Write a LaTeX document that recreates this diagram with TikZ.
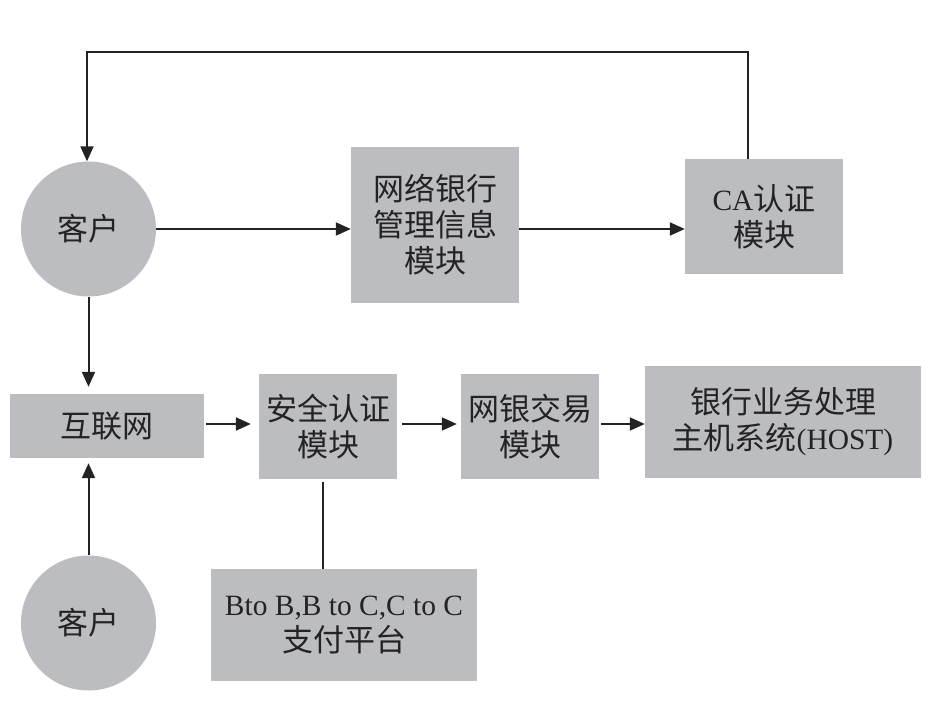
\documentclass[tikz,border=0pt]{standalone}
\usepackage{fontspec}
\setmainfont{Noto Sans CJK SC}
\newfontfamily\lat[Scale=0.95]{Liberation Serif}
\usetikzlibrary{arrows.meta}
\definecolor{boxgray}{RGB}{188,189,193}
\definecolor{ink}{RGB}{35,35,35}
\begin{document}
\begin{tikzpicture}[x=1pt,y=-1pt,
  blk/.style={fill=boxgray, draw=none, inner sep=0pt, align=center,
    font=\fontsize{31}{36}\selectfont, text=ink},
  circ/.style={blk, circle, minimum size=135pt},
  conn/.style={draw=ink, line width=2pt},
  arr/.style={conn, -{Triangle[length=15pt,width=13pt]}}]
\useasboundingbox (0,0) rectangle (948,719);
\node[circ] (c1) at (88.5,229) {客户};
\node[circ] (c2) at (88.5,623) {客户};
\node[blk, minimum width=168pt, minimum height=156pt] (wl) at (435,225) {网络银行\\管理信息\\模块};
\node[blk, minimum width=158pt, minimum height=115pt] (ca) at (764,216.5) {{\lat CA}认证\\模块};
\node[blk, minimum width=194pt, minimum height=64pt] (hlw) at (107,426) {互联网};
\node[blk, minimum width=138pt, minimum height=105pt] (aq) at (328,426.5) {安全认证\\模块};
\node[blk, minimum width=138pt, minimum height=105pt] (wy) at (530,426.5) {网银交易\\模块};
\node[blk, minimum width=276pt, minimum height=112pt] (host) at (783,422) {银行业务处理\\主机系统{\lat (HOST)}};
\node[blk, minimum width=266pt, minimum height=112pt] (zf) at (344,625) {{\lat Bto B,B to C,C to C}\\支付平台};
\coordinate (tl) at (87,52);
\coordinate (tr) at (748,52);
\coordinate (ax) at (323,0);
\draw[arr] (ca.north -| tr) -- (tr) -- (tl) -- (tl |- c1.north);
\draw[arr] (c1.east) -- (c1.east -| wl.west);
\draw[arr] (wl.east |- c1.east) -- (ca.west |- c1.east);
\draw[arr, shorten >=7pt] (c1.south) -- (c1.south |- hlw.north);
\draw[arr, shorten >=5pt] (c2.north) -- (c2.north |- hlw.south);
\draw[arr, shorten <=2pt, shorten >=8pt] (hlw.east |- 0,424) -- (aq.west |- 0,424);
\draw[arr, shorten <=5pt, shorten >=4pt] (aq.east |- 0,424) -- (wy.west |- 0,424);
\draw[arr, shorten <=2pt] (wy.east |- 0,424) -- (host.west |- 0,424);
\draw[conn, shorten <=3pt] (aq.south -| ax) -- (zf.north -| ax);
\end{tikzpicture}
\end{document}
